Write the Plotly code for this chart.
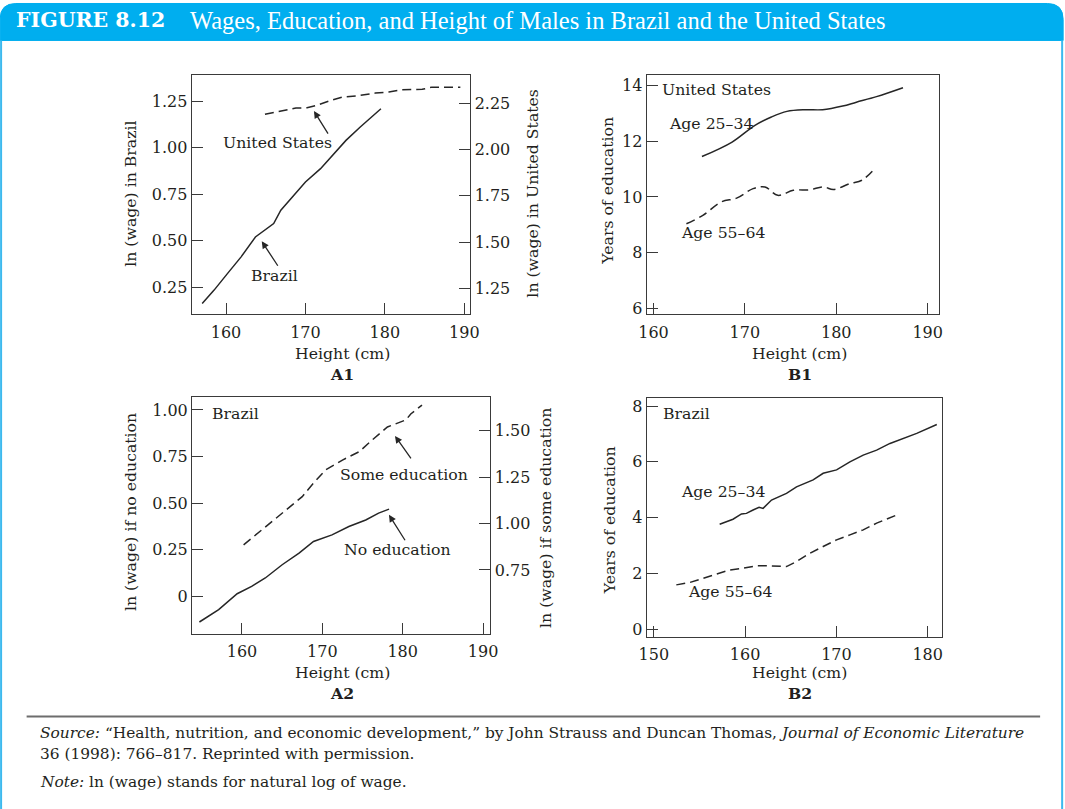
import plotly.graph_objects as go

# ---- Panel A1: ln(wage) by height, Brazil (left axis) and United States (right axis)
a1_brazil_height = [157.0, 158.5, 160.2, 161.9, 163.7, 165.0, 166.0, 166.9, 168.3, 170.0,
                    171.9, 173.6, 175.1, 176.9, 178.2, 179.5]
a1_brazil_lnwage = [0.162, 0.234, 0.324, 0.413, 0.52, 0.56, 0.592, 0.664, 0.735, 0.816,
                    0.888, 0.969, 1.04, 1.112, 1.16, 1.21]
a1_us_height = [164.9, 166.8, 168.8, 170.2, 171.5, 173.0, 174.6, 176.7, 178.8, 180.5,
                182.1, 184.7, 185.9, 187.5, 189.5]
a1_us_lnwage = [2.19, 2.205, 2.223, 2.225, 2.239, 2.262, 2.282, 2.29, 2.304, 2.31,
                2.322, 2.324, 2.336, 2.336, 2.336]

# ---- Panel B1: years of education by height, United States
b1_young_height = [165.3, 168.6, 171.1, 172.9, 174.6, 176.6, 178.5, 180.7, 182.2, 184.4, 187.3]
b1_young_years = [11.45, 11.97, 12.57, 12.87, 13.07, 13.13, 13.13, 13.26, 13.40, 13.60, 13.92]
b1_old_height = [163.6, 165.4, 167.4, 169.1, 170.9, 172.2, 173.6, 175.3, 177.1, 178.6,
                 179.7, 181.5, 182.8, 184.1]
b1_old_years = [9.04, 9.34, 9.82, 9.96, 10.30, 10.36, 10.06, 10.24, 10.26, 10.36,
                10.27, 10.48, 10.6, 10.98]

# ---- Panel A2: ln(wage) by height in Brazil, no education (left) / some education (right)
a2_none_height = [154.7, 157.1, 159.4, 161.2, 162.9, 165.0, 167.1, 168.9, 171.2, 173.3,
                  175.4, 177.0, 178.3]
a2_none_lnwage = [-0.137, -0.071, 0.0145, 0.054, 0.099, 0.17, 0.232, 0.295, 0.33, 0.375,
                  0.41, 0.447, 0.468]
a2_some_height = [160.2, 162.5, 165.0, 167.5, 168.7, 170.4, 172.5, 174.6, 176.2, 178.1,
                  180.4, 181.0, 182.4]
a2_some_lnwage = [0.885, 0.966, 1.056, 1.145, 1.208, 1.289, 1.342, 1.387, 1.45, 1.52,
                  1.558, 1.59, 1.638]

# ---- Panel B2: years of education by height, Brazil
b2_young_height = [157.21, 158.67, 159.6, 160.14, 160.87, 161.53, 161.97, 162.89, 164.53,
                   165.63, 167.45, 168.55, 170.02, 171.48, 172.94, 174.41, 175.87, 177.33,
                   178.8, 181.0]
b2_young_years = [3.76, 3.94, 4.13, 4.15, 4.27, 4.37, 4.33, 4.63, 4.87,
                  5.1, 5.35, 5.59, 5.71, 6.0, 6.24, 6.42, 6.66, 6.84, 7.02, 7.34]
b2_old_height = [152.46, 153.92, 155.38, 156.85, 158.31, 159.77, 161.24, 162.7, 164.53,
                 165.63, 167.09, 168.55, 170.02, 171.48, 172.94, 174.41, 176.6]
b2_old_years = [1.585, 1.67, 1.82, 1.98, 2.12, 2.18, 2.27, 2.27, 2.24,
                2.42, 2.72, 2.96, 3.2, 3.38, 3.56, 3.8, 4.09]

# ---- Tick labels
a1_left_ticks = [0.25, 0.50, 0.75, 1.00, 1.25]
a1_left_labels = ["0.25", "0.50", "0.75", "1.00", "1.25"]
a1_right_ticks = [1.25, 1.50, 1.75, 2.00, 2.25]
a1_right_labels = ["1.25", "1.50", "1.75", "2.00", "2.25"]
a2_left_ticks = [0, 0.25, 0.50, 0.75, 1.00]
a2_left_labels = ["0", "0.25", "0.50", "0.75", "1.00"]
a2_right_ticks = [0.75, 1.00, 1.25, 1.50]
a2_right_labels = ["0.75", "1.00", "1.25", "1.50"]
height_ticks_a = [160, 170, 180, 190]
height_ticks_b2 = [150, 160, 170, 180]
b1_year_ticks = [6, 8, 10, 12, 14]
b2_year_ticks = [0, 2, 4, 6, 8]

W, H = 1065, 809
INK = "#231f20"
AXIS = "#3a3a3a"
BLUE = "#00aeef"
SERIF = "DejaVu Serif"

# Page-to-view correction for the hosting page (offset and scale of the rendered figure)
VX0, VSX = 9.4, 0.9826
VY0, VSY = 1.5, 0.9938


def px(x):
    """Screen pixel x -> paper fraction."""
    return ((x - VX0) / VSX) / W


def py(y):
    """Screen pixel y (from top) -> paper fraction."""
    return 1 - ((y - VY0) / VSY) / H


solid = dict(color="#262626", width=1.5)
dashed = dict(color="#262626", width=1.5, dash="9px,5px")

fig = go.Figure()
fig.add_trace(go.Scatter(x=a1_brazil_height, y=a1_brazil_lnwage, mode="lines", line=solid,
                         xaxis="x", yaxis="y"))
fig.add_trace(go.Scatter(x=a1_us_height, y=a1_us_lnwage, mode="lines", line=dashed,
                         xaxis="x", yaxis="y2"))
fig.add_trace(go.Scatter(x=b1_young_height, y=b1_young_years, mode="lines", line=solid,
                         line_shape="spline", xaxis="x2", yaxis="y3"))
fig.add_trace(go.Scatter(x=b1_old_height, y=b1_old_years, mode="lines", line=dashed,
                         line_shape="spline", xaxis="x2", yaxis="y3"))
fig.add_trace(go.Scatter(x=a2_none_height, y=a2_none_lnwage, mode="lines", line=solid,
                         xaxis="x3", yaxis="y4"))
fig.add_trace(go.Scatter(x=a2_some_height, y=a2_some_lnwage, mode="lines", line=dashed,
                         xaxis="x3", yaxis="y5"))
fig.add_trace(go.Scatter(x=b2_young_height, y=b2_young_years, mode="lines", line=solid,
                         xaxis="x4", yaxis="y6"))
fig.add_trace(go.Scatter(x=b2_old_height, y=b2_old_years, mode="lines", line=dashed,
                         xaxis="x4", yaxis="y6"))

axis_style = dict(showline=True, linecolor=AXIS, linewidth=1.4, ticks="inside", ticklen=11,
                  tickwidth=1.3, tickcolor=AXIS, showgrid=False, zeroline=False,
                  tickfont=dict(family=SERIF, size=16, color=INK), fixedrange=True)
x_style = dict(axis_style, ticklabelstandoff=3)

dom_x_a1 = [px(193), px(471)]
dom_x_b1 = [px(647.3), px(939.3)]
dom_x_a2 = [px(193.3), px(491)]
dom_x_b2 = [px(647.3), px(942.3)]
dom_y_top = [py(314), py(75)]
dom_y_a2 = [py(634.3), py(396.7)]
dom_y_b2 = [py(637.3), py(398.3)]

fig.update_layout(
    xaxis=dict(x_style, domain=dom_x_a1, range=[155.7, 190.75], tickvals=height_ticks_a,
               anchor="y", mirror=True),
    yaxis=dict(axis_style, domain=dom_y_top, range=[0.1048, 1.3898], tickvals=a1_left_ticks,
               ticktext=a1_left_labels, anchor="x", mirror=True),
    yaxis2=dict(axis_style, range=[1.1115, 2.3992], tickvals=a1_right_ticks,
                ticktext=a1_right_labels, overlaying="y", side="right", anchor="x"),
    xaxis2=dict(x_style, domain=dom_x_b1, range=[159.27, 191.27], tickvals=height_ticks_a,
                anchor="y3", mirror=True),
    yaxis3=dict(axis_style, domain=dom_y_top, range=[5.8, 14.36], tickvals=b1_year_ticks,
                anchor="x2", mirror=True),
    xaxis3=dict(x_style, domain=dom_x_a2, range=[153.8, 190.9], tickvals=height_ticks_a,
                anchor="y4", mirror=True),
    yaxis4=dict(axis_style, domain=dom_y_a2, range=[-0.2015, 1.071], tickvals=a2_left_ticks,
                ticktext=a2_left_labels, anchor="x3", mirror=True),
    yaxis5=dict(axis_style, range=[0.405, 1.683], tickvals=a2_right_ticks,
                ticktext=a2_right_labels, overlaying="y4", side="right", anchor="x3"),
    xaxis4=dict(x_style, domain=dom_x_b2, range=[149.23, 181.6], tickvals=height_ticks_b2,
                anchor="y6", mirror=True),
    yaxis6=dict(axis_style, domain=dom_y_b2, range=[-0.287, 8.28], tickvals=b2_year_ticks,
                anchor="x4", mirror=True),
)

annotations = []


def label(text, x, y, size=15.7, angle=0, xanchor="center", family=SERIF, color=INK):
    annotations.append(dict(text=text, x=px(x), y=py(y), xref="paper", yref="paper",
                            showarrow=False, textangle=angle, xanchor=xanchor,
                            yanchor="middle", font=dict(family=family, size=size, color=color)))


def arrow(x, y, xref, yref, ax, ay):
    annotations.append(dict(text="", x=x, y=y, xref=xref, yref=yref, showarrow=True,
                            ax=ax, ay=ay, arrowhead=2, arrowsize=1.1, arrowwidth=1.3,
                            arrowcolor="#262626", standoff=0))


# Header band text
label("<b>FIGURE 8.12</b>", 15, 20, size=20.5, xanchor="left", color="white")
label("Wages, Education, and Height of Males in Brazil and the United States", 189, 20,
      size=24.5, xanchor="left", family="Liberation Serif", color="white")

# A1
label("United States", 279, 141.7)
label("Brazil", 275.7, 275)
arrow(171.07, 1.198, "x", "y", 15, 24)
arrow(164.5, 0.497, "x", "y", 17, 26)
label("ln (wage) in Brazil", 131.7, 193, angle=-90)
label("ln (wage) in United States", 533, 193, angle=-90)
label("Height (cm)", 343, 353)
label("<b>A1</b>", 343, 374)

# B1
label("United States", 716.7, 89.3)
label("Age 25–34", 711.7, 123.3)
label("Age 55–64", 723.3, 232.7)
label("Years of education", 608, 190, angle=-90)
label("Height (cm)", 800, 353)
label("<b>B1</b>", 800, 374)

# A2
label("Brazil", 236.7, 414)
label("Some education", 405, 475)
label("No education", 398.3, 549.3)
arrow(179.04, 0.861, "x3", "y4", 17, 24)
arrow(178.29, 0.438, "x3", "y4", 17, 27)
label("ln (wage) if no education", 131.7, 511.7, angle=-90)
label("ln (wage) if some education", 546.7, 518, angle=-90)
label("Height (cm)", 343, 673.3)
label("<b>A2</b>", 343, 694)

# B2
label("Brazil", 686.7, 414)
label("Age 25–34", 723.3, 491.7)
label("Age 55–64", 730, 591.7)
label("Years of education", 610, 520, angle=-90)
label("Height (cm)", 800, 673.3)
label("<b>B2</b>", 800, 694)

# Source and note
src_size = 15.4
label("<i>Source:</i> “Health, nutrition, and economic development,” by John Strauss and "
      "Duncan Thomas, <i>Journal of Economic Literature</i>", 39, 733, size=src_size,
      xanchor="left")
label("36 (1998): 766–817. Reprinted with permission.", 39, 754, size=src_size,
      xanchor="left")
label("<i>Note:</i> ln (wage) stands for natural log of wage.", 39, 782, size=src_size,
      xanchor="left")

fig.update_layout(annotations=annotations)

# Frame: blue header band with rounded top corners and thin side borders
x0, x1 = px(1.5), px(1063)
yt, yb = py(3), py(40)
rx, ry = 16 / W, 16 / H
band = (f"M {x0},{yb} L {x0},{yt - ry} Q {x0},{yt} {x0 + rx},{yt} "
        f"L {x1 - rx},{yt} Q {x1},{yt} {x1},{yt - ry} L {x1},{yb} Z")
shapes = [
    dict(type="path", path=band, xref="paper", yref="paper", fillcolor=BLUE,
         line=dict(color=BLUE, width=1), layer="below"),
    dict(type="line", x0=px(2.5), x1=px(2.5), y0=yb, y1=-0.01, xref="paper", yref="paper",
         line=dict(color="#3cb9ee", width=2)),
    dict(type="line", x0=px(1062), x1=px(1062), y0=yb, y1=-0.01, xref="paper",
         yref="paper", line=dict(color="#3cb9ee", width=2)),
    dict(type="line", x0=px(28), x1=px(1040), y0=py(717), y1=py(717), xref="paper",
         yref="paper", line=dict(color="#6d6d6d", width=2)),
]

fig.update_layout(
    shapes=shapes,
    width=W, height=H,
    autosize=False,
    margin=dict(l=0, r=0, t=0, b=0),
    paper_bgcolor="white",
    plot_bgcolor="rgba(0,0,0,0)",
    showlegend=False,
)

fig.write_html("out.html", config={"responsive": False})
